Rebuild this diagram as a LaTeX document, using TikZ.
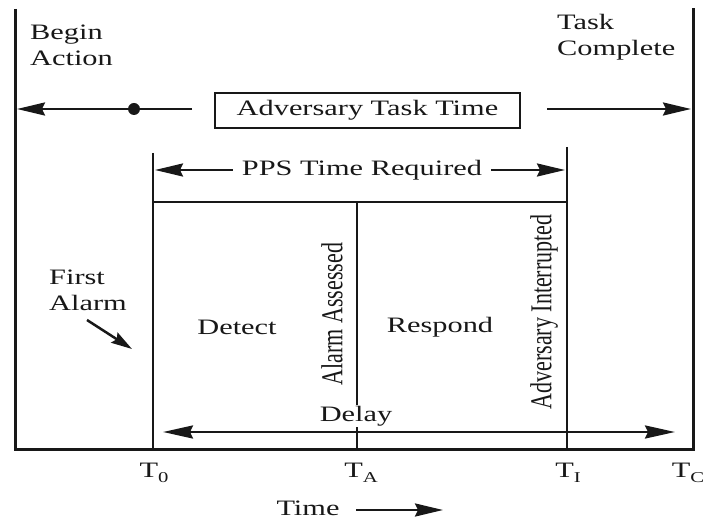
\documentclass[tikz,border=0pt]{standalone}
\usepackage{fontspec}
\usepackage{graphicx}
\setmainfont{Liberation Serif}[FakeStretch=1.38]
\newfontfamily\straightserif{Liberation Serif}
\usetikzlibrary{arrows.meta}
\definecolor{ink}{RGB}{24,24,24}
\newcommand\tsub[1]{\raisebox{-5pt}{\fontsize{15}{15}\selectfont #1}}
\newcommand\uprot[1]{\scalebox{1.38}[1]{\rotatebox{90}{\straightserif #1}}}

\begin{document}
\begin{tikzpicture}[x=1pt,y=-1pt,
  every node/.style={text=ink},
  lbl/.style={font=\fontsize{22}{26}\selectfont, inner sep=0pt},
  frame/.style={draw=ink, line width=3pt},
  tline/.style={draw=ink, line width=2.8pt},
  arr/.style={draw=ink, line width=2.5pt, -{Stealth[length=28pt,width=13pt,inset=3pt]}},
  darr/.style={draw=ink, line width=2.5pt, {Stealth[length=30pt,width=13pt,inset=3pt]}-{Stealth[length=30pt,width=13pt,inset=3pt]}},
  sarr/.style={draw=ink, line width=2.5pt, -{Stealth[length=21pt,width=12pt,inset=3pt]}}
]
\fill[white] (0,0) rectangle (707,521);
\useasboundingbox (0,0) rectangle (707,521);

% outer time frame: begin, completion and the time axis
\coordinate (Ltop) at (15,9);
\coordinate (Lbot) at (15,449);
\coordinate (Rtop) at (693,8);
\coordinate (Rbot) at (693,449);
\draw[frame] (Ltop) -- (Lbot) -- (Rbot) -- (Rtop);

% event markers
\coordinate (T0top) at (153,153);
\coordinate (T0bot) at (153,449);
\coordinate (TItop) at (567,147);
\coordinate (TIbot) at (567,449);
\coordinate (barL) at (153,202);
\coordinate (barR) at (567,202);
\coordinate (TAtop) at (357,202);
\coordinate (TAbot) at (357,449);
\draw[tline] (T0top) -- (T0bot);
\draw[tline] (TItop) -- (TIbot);
\draw[tline] (barL) -- (barR);
\draw[tline] (TAtop) -- (TAbot);

% corner labels
\node[lbl, anchor=north west, align=left] (begin) at (30,25) {Begin\\Action};
\node[lbl, anchor=north west, align=left] (complete) at (557,14) {Task\\Complete};

% adversary task time
\node[lbl, draw=ink, line width=2.4pt, minimum width=305pt, minimum height=35pt] (att) at (367.5,110.5) {Adversary Task Time};
\coordinate (attL) at (192,109);
\coordinate (attR) at (547,109);
\coordinate (beginTip) at (17,109);
\coordinate (endTip) at (691,109);
\draw[arr] (attL) -- (beginTip);
\draw[arr] (attR) -- (endTip);
\node[circle, fill=ink, inner sep=0pt, minimum size=12pt] (dot) at (134,109) {};

% PPS time required
\node[lbl] (pps) at (362,170) {PPS Time Required};
\coordinate (ppsL) at (155,170);
\coordinate (ppsR) at (565,170);
\draw[arr, shorten <=9pt] (pps.west) -- (ppsL);
\draw[arr, shorten <=9pt] (pps.east) -- (ppsR);

% first alarm
\node[lbl, anchor=north west, align=left] (first) at (49,270) {First\\Alarm};
\coordinate (faS) at (87,320);
\coordinate (faE) at (132,349);
\draw[sarr] (faS) -- (faE);

% phases
\node[lbl] (detect) at (237,327) {Detect};
\node[lbl] (respond) at (440,327) {Respond};
\node[lbl] (assessed) at (332,314) {\uprot{Alarm Assessed}};
\node[lbl] (interrupted) at (544,312) {\uprot{Adversary Interrupted}};

% delay
\node[lbl, fill=white, inner sep=1pt] (delay) at (356,416) {Delay};
\coordinate (dL) at (163,432);
\coordinate (dR) at (675,432);
\draw[darr] (dL) -- (dR);

% time ticks
\node[lbl, anchor=base] (t0) at (154,477) {T\tsub{0}};
\node[lbl, anchor=base] (ta) at (361,477) {T\tsub{A}};
\node[lbl, anchor=base] (ti) at (568,477) {T\tsub{I}};
\node[lbl, anchor=base] (tc) at (688,477) {T\tsub{C}};

% time direction
\node[lbl] (time) at (308,508) {Time};
\coordinate (timeS) at (356,510);
\coordinate (timeE) at (443,510);
\draw[arr] (timeS) -- (timeE);
\end{tikzpicture}
\end{document}
